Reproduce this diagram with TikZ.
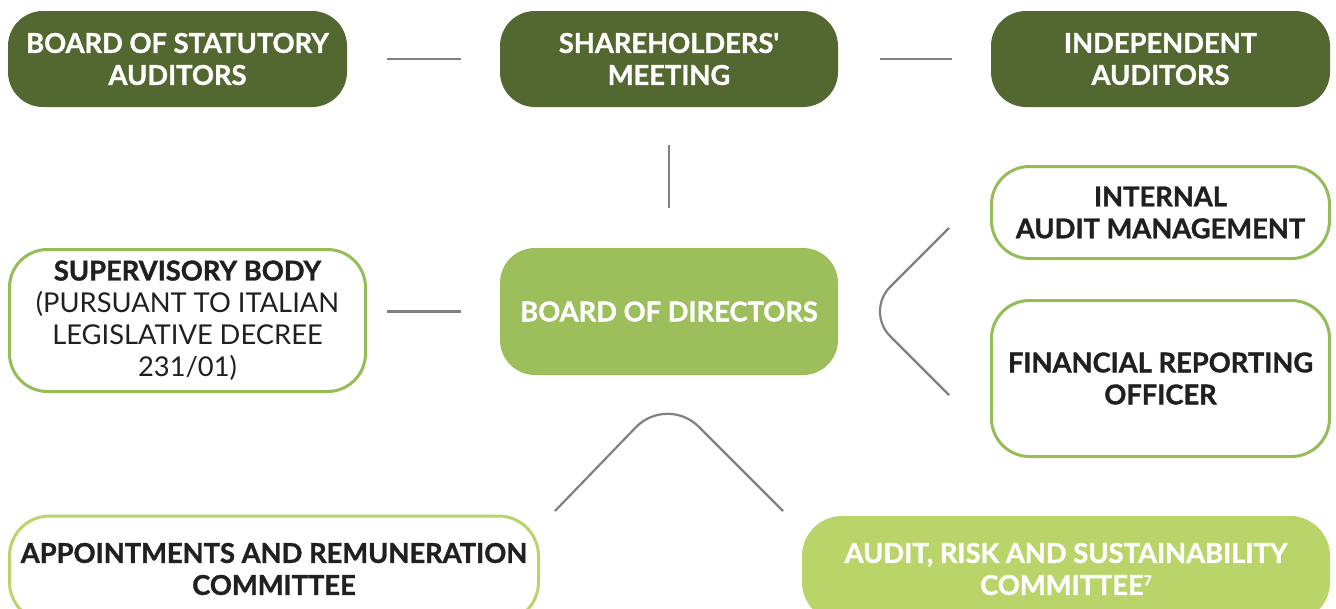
\documentclass[tikz,border=0pt]{standalone}
\usepackage{fontspec}
\setmainfont{Lato}[BoldFeatures={FakeBold=1.2}]
\definecolor{darkg}{HTML}{536831}
\definecolor{midg}{HTML}{9CBF5B}
\definecolor{bordg}{HTML}{95BC57}
\definecolor{lightg}{HTML}{B9D56A}
\definecolor{txt}{HTML}{231F20}
\definecolor{conn}{HTML}{808080}
\tikzset{
  box/.style={rectangle, align=center, inner sep=0pt,
    font=\bfseries\fontsize{27.3}{32}\selectfont},
  darkbox/.style={box, fill=darkg, text=white, rounded corners=35pt},
  outbox/.style={box, draw=bordg, line width=3pt, fill=white, text=txt, rounded corners=38pt},
  lightout/.style={box, draw=lightg, line width=3pt, fill=white, text=txt, rounded corners=40pt},
  lightfill/.style={box, fill=lightg, text=white, rounded corners=40pt},
  link/.style={draw=conn, line width=2.2pt},
}
\begin{document}
\begin{tikzpicture}[x=1pt,y=-1pt]
\useasboundingbox (0,0) rectangle (1336,608);
\clip (0,0) rectangle (1336,608);
\node[darkbox, minimum width=339pt, minimum height=96pt] (bsa) at (177.5,59) {BOARD OF STATUTORY\\AUDITORS};
\node[darkbox, minimum width=338pt, minimum height=96pt] (sm) at (669,59) {SHAREHOLDERS\textquotesingle\\MEETING};
\node[darkbox, minimum width=339pt, minimum height=96pt] (ia) at (1160.5,59) {INDEPENDENT\\AUDITORS};
\node[outbox, minimum width=338pt, minimum height=92pt] (iam) at (1160.5,212.5) {INTERNAL\\AUDIT MANAGEMENT};
\node[outbox, minimum width=356pt, minimum height=142pt] (sb) at (187.5,320.5) {SUPERVISORY BODY\\{\mdseries (PURSUANT TO ITALIAN}\\{\mdseries LEGISLATIVE DECREE}\\{\mdseries 231/01)}};
\node[box, fill=midg, text=white, rounded corners=35pt, minimum width=338pt, minimum height=127pt] (bod) at (669,311.5) {BOARD OF DIRECTORS};
\node[outbox, minimum width=338pt, minimum height=156pt] (fro) at (1160.5,378.5) {FINANCIAL REPORTING\\OFFICER};
\node[lightout, minimum width=529pt, minimum height=106pt] (arc) at (274,569) {APPOINTMENTS AND REMUNERATION\\COMMITTEE};
\node[lightfill, minimum width=528pt, minimum height=106pt] (arsc) at (1066,569) {AUDIT, RISK AND SUSTAINABILITY\\COMMITTEE\raisebox{9.5pt}{\fontsize{14}{14}\selectfont 7}};
% connectors
\draw[link, shorten <=40pt, shorten >=39pt] (bsa.east) -- (sm.west);
\draw[link, shorten <=42pt, shorten >=39pt] (sm.east) -- (ia.west);
\draw[link, shorten <=38pt, shorten >=40pt] (sm.south) -- (bod.north);
\draw[link, shorten <=20pt, shorten >=39pt] (bod.west -| sb.east) -- (bod.west);
\coordinate (rt) at (949,228);
\coordinate (rb) at (949,395);
\draw[link, rounded corners=35pt] (rt) -- (865.5,311.5) -- (rb);
\coordinate (bl) at (555,511);
\coordinate (br) at (783,511);
\draw[link, rounded corners=45pt] (bl) -- (667,395) -- (br);
\end{tikzpicture}
\end{document}
